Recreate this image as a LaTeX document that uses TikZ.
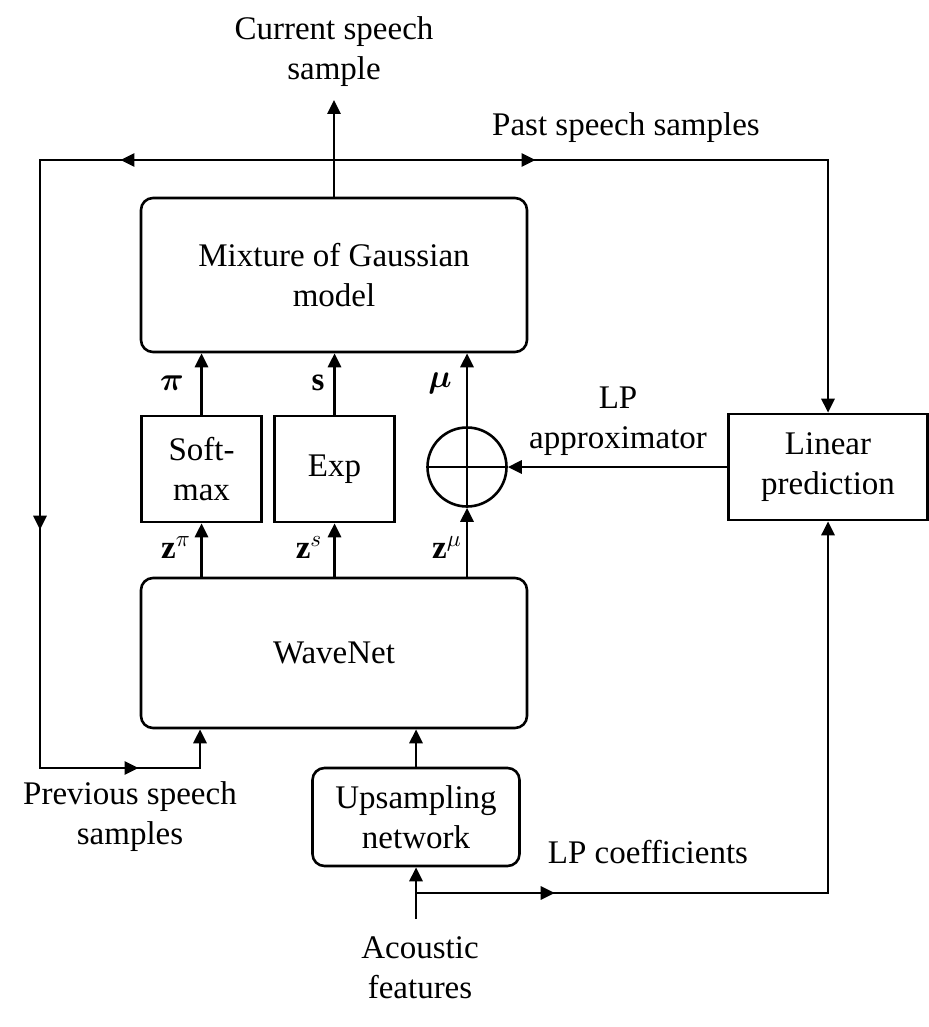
\documentclass[tikz,border=0pt]{standalone}
\usepackage{fix-cm}
\usepackage{amsmath,bm}
\usepackage{fontspec}
\setmainfont{Liberation Serif}
\usetikzlibrary{arrows.meta,decorations.markings}

\tikzset{
  blk/.style={draw, line width=1.3pt, align=center, inner sep=0pt},
  rblk/.style={blk, rounded corners=6pt},
  wire/.style={draw, line width=1.4pt},
  flow/.style={draw, line width=1.4pt, -{Triangle[length=7pt,width=6.5pt]}},
  midtip/.style={postaction={decorate, decoration={markings,
      mark=at position #1 with {\arrow{Triangle[length=7pt,width=6.5pt]}}}}},
  lbl/.style={align=center, inner sep=0pt},
}

\begin{document}
\begin{tikzpicture}[x=0.5pt, y=-0.5pt, font=\fontsize{16.5}{20}\selectfont]

\useasboundingbox (0,0) rectangle (929,1027);

% blocks
\node[rblk, minimum width=193pt, minimum height=77pt] (mix) at (334,275) {Mixture of Gaussian\\model};
\node[blk, minimum width=60pt, minimum height=53pt] (soft) at (201.5,469) {Soft-\\max};
\node[blk, minimum width=60pt, minimum height=53pt] (expo) at (334.5,469) {Exp};
\node[draw, line width=1.3pt, circle, minimum size=39.5pt, inner sep=0pt] (sum) at (467,467) {};
\node[rblk, minimum width=193pt, minimum height=75pt] (wave) at (334,653) {WaveNet};
\node[blk, minimum width=99.5pt, minimum height=53pt] (lp) at (828,467) {Linear\\prediction};
\node[rblk, minimum width=103.5pt, minimum height=49pt] (up) at (416,817) {Upsampling\\network};

% plus sign in the adder
\draw[wire] (sum.north) -- (sum.south);
\draw[wire] (sum.west) -- (sum.east);

% labels
\node[lbl] (cur) at (334,52) {Current speech\\sample};
\node[lbl] (past) at (626,128) {Past speech samples};
\node[lbl] (prev) at (130,817) {Previous speech\\samples};
\node[lbl] (acou) at (420,968) {Acoustic\\features};
\node[lbl] (lpc) at (648,852) {LP coefficients};
\node[lbl] (lpa) at (618,421) {LP\\approximator};
\node[lbl] (lpi) at (172,383) {$\bm{\pi}$};
\node[lbl] (ls) at (318,383) {$\mathbf{s}$};
\node[lbl] (lmu) at (440,383) {$\bm{\mu}$};
\node[lbl] (zpi) at (176,548) {$\mathbf{z}^{\pi}$};
\node[lbl] (zs) at (309,548) {$\mathbf{z}^{s}$};
\node[lbl] (zmu) at (447,548) {$\mathbf{z}^{\mu}$};

% corner points
\coordinate (out) at (334,100);
\coordinate (jtop) at (334,160);
\coordinate (tl) at (40,160);
\coordinate (bl) at (40,768);
\coordinate (pb) at (200,768);
\coordinate (tr) at (828,160);
\coordinate (jac) at (416,893);
\coordinate (acin) at (416,919);
\coordinate (br) at (828,893);

% output and feedback
\draw[flow] (mix.north) -- (out);
\draw[flow, midtip=0.194, midtip=0.603, midtip=0.909] (jtop) -- (tl) -- (bl) -- (pb) -- (pb |- wave.south);
\draw[flow, midtip=0.27] (jtop) -- (tr) -- (lp.north);

% WaveNet outputs
\draw[flow] (wave.north -| soft.south) -- (soft.south);
\draw[flow] (wave.north -| expo.south) -- (expo.south);
\draw[flow] (wave.north -| sum.south) -- (sum.south);
\draw[flow] (soft.north) -- (soft.north |- mix.south);
\draw[flow] (expo.north) -- (expo.north |- mix.south);
\draw[flow] (sum.north) -- (sum.north |- mix.south);
\draw[flow] (lp.west) -- (sum.east);

% conditioning
\draw[flow] (up.north) -- (up.north |- wave.south);
\draw[flow] (acin) -- (up.south);
\draw[flow, midtip=0.177] (jac) -- (br) -- (lp.south);

\end{tikzpicture}
\end{document}
